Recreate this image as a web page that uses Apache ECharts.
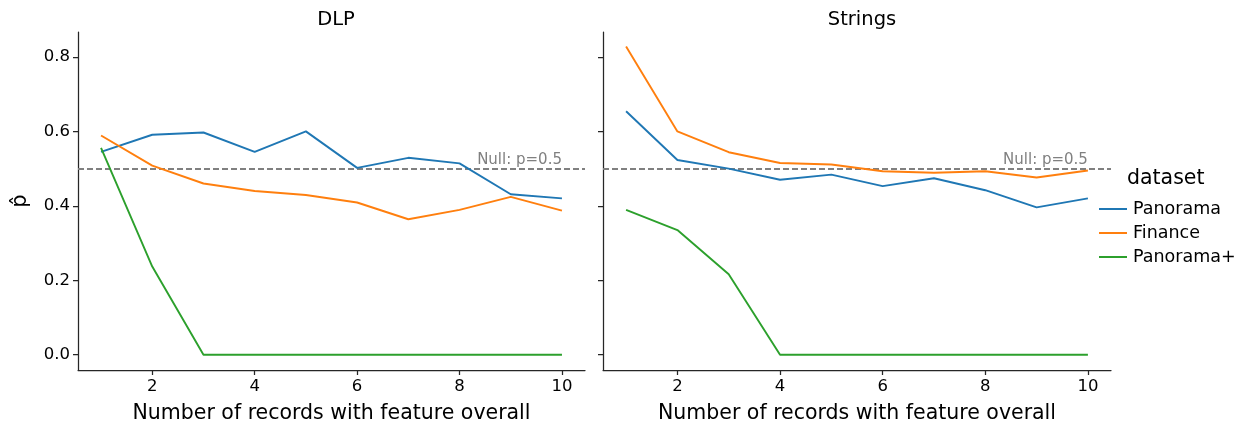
<!DOCTYPE html>
<html>
<head>
<meta charset="utf-8">
<script src="https://cdn.jsdelivr.net/npm/echarts@6/dist/echarts.min.js"></script>
<style>
  html, body { margin: 0; padding: 0; background: #fff; }
  #main { width: 1246px; height: 429px; }
</style>
</head>
<body>
<div id="main"></div>
<script>
var chart = echarts.init(document.getElementById('main'));

// data
var xVals = [1, 2, 3, 4, 5, 6, 7, 8, 9, 10];
var panelTitles = ['DLP', 'Strings'];
var seriesNames = ['Panorama', 'Finance', 'Panorama+'];
var colors = ['#1f77b4', '#ff7f0e', '#2ca02c'];
var xTicks = [2, 4, 6, 8, 10];
var yTicks = [0, 0.2, 0.4, 0.6, 0.8];
var nullP = 0.5;

// DLP panel
var dlpPanorama = [0.545, 0.591, 0.597, 0.545, 0.600, 0.502, 0.529, 0.514, 0.431, 0.420];
var dlpFinance = [0.589, 0.508, 0.460, 0.440, 0.429, 0.409, 0.364, 0.389, 0.424, 0.387];
var dlpPanoramaPlus = [0.556, 0.237, 0, 0, 0, 0, 0, 0, 0, 0];
// Strings panel
var strPanorama = [0.654, 0.523, 0.500, 0.470, 0.484, 0.453, 0.474, 0.442, 0.396, 0.420];
var strFinance = [0.828, 0.600, 0.544, 0.515, 0.511, 0.493, 0.489, 0.493, 0.476, 0.495];
var strPanoramaPlus = [0.389, 0.335, 0.216, 0, 0, 0, 0, 0, 0, 0];

var panels = [
	[dlpPanorama, dlpFinance, dlpPanoramaPlus],
	[strPanorama, strFinance, strPanoramaPlus]
];

var axisColor = '#262626';
var font = 'DejaVu Sans';

function pairs(ys) {
	var out = [];
	for(var i = 0; i < xVals.length; i++) {
		out.push([xVals[i], ys[i]]);
	}
	return out;
}

var grids = [
	{ left: 78, top: 32, width: 507, height: 340 },
	{ left: 603, top: 32, width: 508, height: 340 }
];

var xAxes = [], yAxes = [], series = [];
for(var p = 0; p < 2; p++) {
	xAxes.push({
		type: 'value',
		gridIndex: p,
		min: 0.55,
		max: 10.45,
		name: 'Number of records with feature overall',
		nameLocation: 'middle',
		nameGap: 33,
		nameTextStyle: { fontFamily: font, fontSize: 20.5, color: '#000' },
		axisLine: { show: true, onZero: false, lineStyle: { color: axisColor, width: 1.25 } },
		axisTick: { show: true, customValues: xTicks, length: 5, lineStyle: { color: axisColor, width: 1.25 } },
		axisLabel: { customValues: xTicks, fontFamily: font, fontSize: 16.5, color: '#000', margin: 8 },
		splitLine: { show: false }
	});
	yAxes.push({
		type: 'value',
		gridIndex: p,
		min: -0.041,
		max: 0.867,
		name: p === 0 ? 'p\u0302' : '',
		nameLocation: 'middle',
		nameGap: 47,
		nameRotate: 90,
		nameTextStyle: { fontFamily: font, fontSize: 21, color: '#000' },
		axisLine: { show: true, onZero: false, lineStyle: { color: axisColor, width: 1.25 } },
		axisTick: { show: true, customValues: yTicks, length: 5, lineStyle: { color: axisColor, width: 1.25 } },
		axisLabel: {
			show: p === 0,
			customValues: yTicks,
			fontFamily: font, fontSize: 16.5, color: '#000', margin: 8,
			formatter: function(v) { return v.toFixed(1); }
		},
		splitLine: { show: false }
	});
	for(var s = 0; s < 3; s++) {
		var ser = {
			name: seriesNames[s],
			type: 'line',
			xAxisIndex: p,
			yAxisIndex: p,
			data: pairs(panels[p][s]),
			symbol: 'none',
			color: colors[s],
			lineStyle: { width: 1.9, color: colors[s] },
			z: 3 + s,
			animation: false
		};
		if(s === 0) {
			// null reference line + label
			ser.markLine = {
				silent: true,
				symbol: 'none',
				label: { show: false },
				lineStyle: { color: '#808080', type: [6, 3], width: 1.8 },
				data: [{ yAxis: nullP }],
				z: 2
			};
			ser.markPoint = {
				silent: true,
				symbol: 'circle',
				symbolSize: 0,
				data: [{ coord: [10, nullP] }],
				label: {
					show: true,
					formatter: 'Null: p=0.5',
					position: [0, -1],
					align: 'right',
					verticalAlign: 'bottom',
					fontFamily: font,
					fontSize: 15,
					color: '#808080'
				}
			};
		}
		series.push(ser);
	}
}

var option = {
	backgroundColor: '#fff',
	animation: false,
	title: [
		{ text: panelTitles[0], left: 331, top: 5, textAlign: 'center',
			textStyle: { fontFamily: font, fontSize: 19.5, fontWeight: 'normal', color: '#000' } },
		{ text: panelTitles[1], left: 857, top: 5, textAlign: 'center',
			textStyle: { fontFamily: font, fontSize: 19.5, fontWeight: 'normal', color: '#000' } }
	],
	legend: {
		data: seriesNames,
		orient: 'vertical',
		left: 1094,
		top: 195,
		itemGap: 6,
		itemWidth: 28,
		itemHeight: 2,
		icon: 'rect',
		textStyle: { fontFamily: font, fontSize: 17.5, lineHeight: 17.5, color: '#000', padding: [0, 0, 0, 1] }
	},
	graphic: [{
		type: 'text',
		left: 1127,
		top: 168,
		style: { text: 'dataset', font: '20.5px "DejaVu Sans"', fill: '#000' }
	}],
	grid: grids,
	xAxis: xAxes,
	yAxis: yAxes,
	series: series
};

chart.setOption(option);
</script>
</body>
</html>
